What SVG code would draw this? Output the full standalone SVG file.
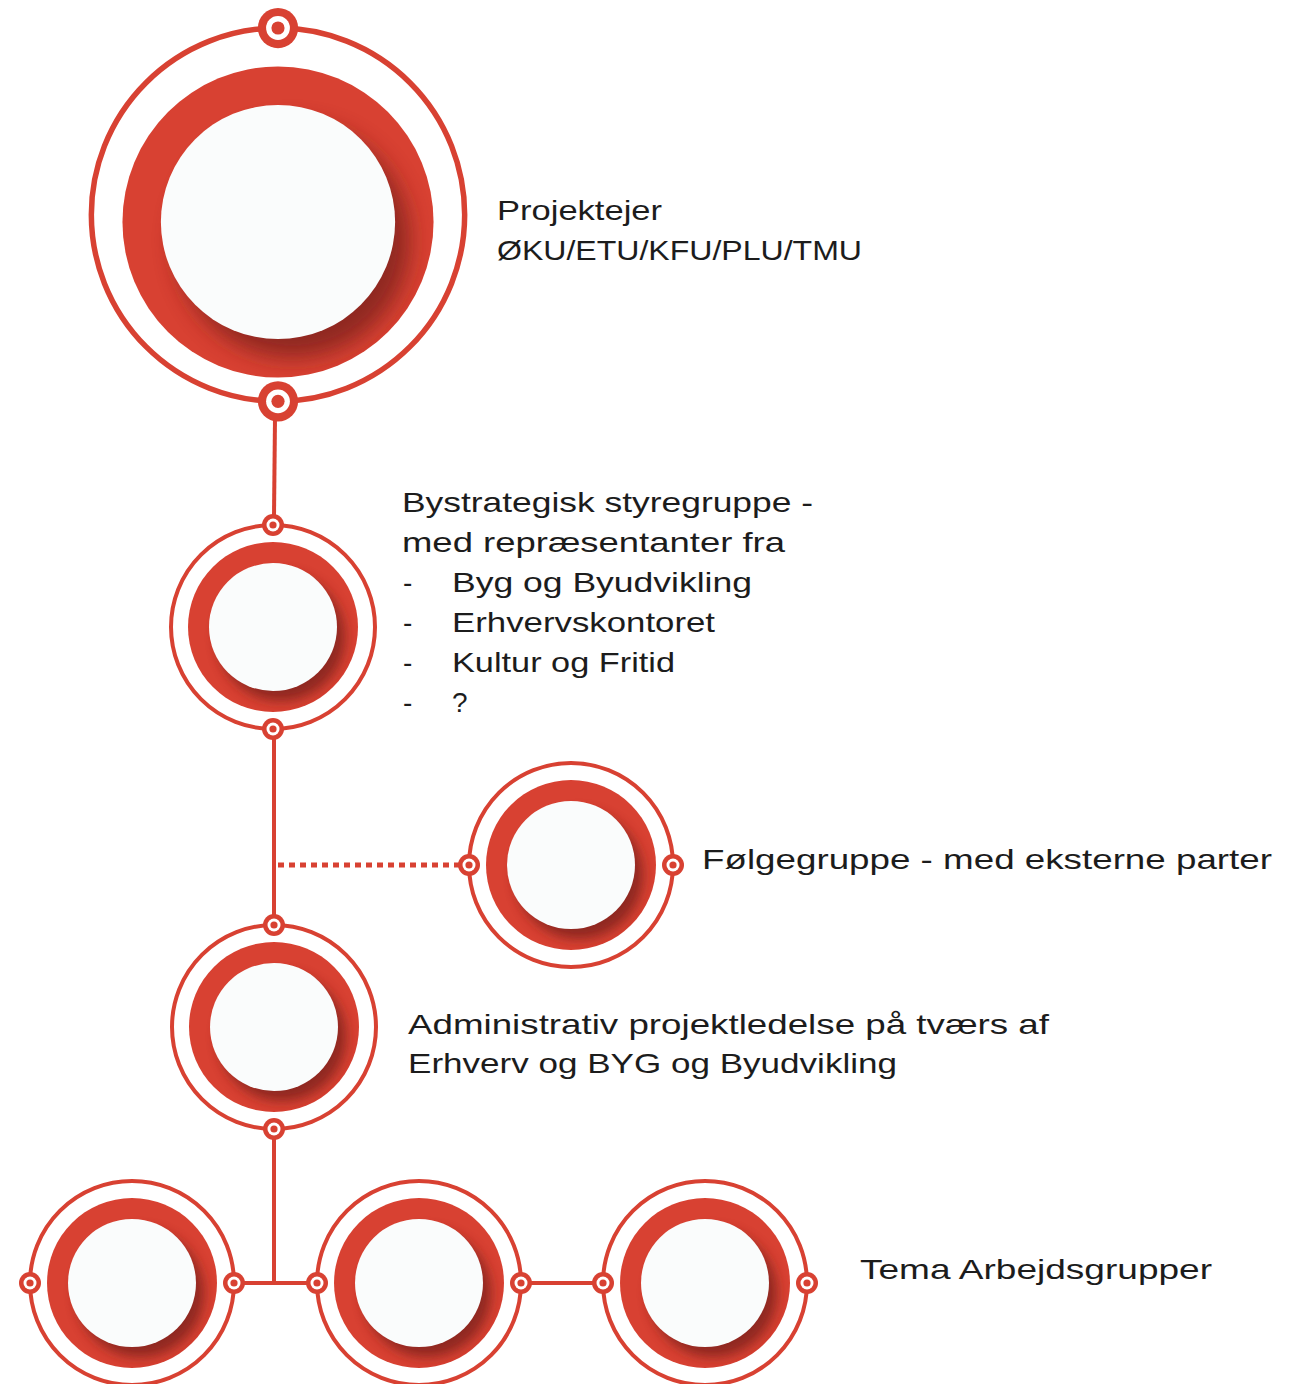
<svg xmlns="http://www.w3.org/2000/svg" xmlns:xlink="http://www.w3.org/1999/xlink" width="1296" height="1384" viewBox="0 0 1296 1384">
  <style>
    .ring { fill: none; stroke: #D84132; stroke-width: 4; }
    .band { fill: #D84132; }
    .shadow { fill: #7d211a; opacity: 0.8; }
    .disc { fill: #FAFCFC; }
    .red { fill: #D84132; }
    .hole { fill: #FFFFFF; }
    .conn { stroke: #D84132; stroke-width: 4; fill: none; }
    .dots { stroke: #D84132; stroke-width: 5; fill: none; stroke-dasharray: 6 5; }
    text { font-family: "Liberation Sans", Arial, sans-serif; font-size: 28px; fill: #1c1c1c; }
  </style>
  <defs>
    <clipPath id="bandClip"><circle cx="0" cy="0" r="85"/></clipPath>
    <filter id="blur" x="-50%" y="-50%" width="200%" height="200%"><feGaussianBlur stdDeviation="6"/></filter>
    <g id="core">
      <circle class="band" cx="0" cy="0" r="85"/>
      <g clip-path="url(#bandClip)"><circle class="shadow" cx="8" cy="10" r="64" filter="url(#blur)"/></g>
      <circle class="disc" cx="0" cy="0" r="64"/>
    </g>
    <g id="port">
      <circle class="red" cx="0" cy="0" r="11"/>
      <circle class="hole" cx="0" cy="0" r="6.5"/>
      <circle class="red" cx="0" cy="0" r="3.6"/>
    </g>
  </defs>

  <g id="connectors">
    <line class="conn" x1="275" y1="418" x2="274" y2="516"/>
    <line class="conn" x1="274" y1="737" x2="274" y2="916"/>
    <line class="dots" x1="278" y1="865" x2="460" y2="865"/>
    <line class="conn" x1="274" y1="1138" x2="274" y2="1283"/>
    <line class="conn" x1="243" y1="1283" x2="308" y2="1283"/>
    <line class="conn" x1="530" y1="1283" x2="594" y2="1283"/>
  </g>

  <g id="node-projektejer" transform="translate(278,222) scale(1.83)">
    <circle class="ring" cx="0" cy="-4" r="102" style="stroke-width:3"/>
    <use xlink:href="#core"/>
    <use xlink:href="#port" x="0" y="-106"/>
    <use xlink:href="#port" x="0" y="98"/>
  </g>

  <g id="node-styregruppe" transform="translate(273,627)">
    <circle class="ring" cx="0" cy="0" r="102"/>
    <use xlink:href="#core"/>
    <use xlink:href="#port" x="0" y="-102"/>
    <use xlink:href="#port" x="0" y="102"/>
  </g>

  <g id="node-foelgegruppe" transform="translate(571,865)">
    <circle class="ring" cx="0" cy="0" r="102"/>
    <use xlink:href="#core"/>
    <use xlink:href="#port" x="-102" y="0"/>
    <use xlink:href="#port" x="102" y="0"/>
  </g>

  <g id="node-administrativ" transform="translate(274,1027)">
    <circle class="ring" cx="0" cy="0" r="102"/>
    <use xlink:href="#core"/>
    <use xlink:href="#port" x="0" y="-102"/>
    <use xlink:href="#port" x="0" y="102"/>
  </g>

  <g id="node-tema1" transform="translate(132,1283)">
    <circle class="ring" cx="0" cy="0" r="102"/>
    <use xlink:href="#core"/>
    <use xlink:href="#port" x="-102" y="0"/>
    <use xlink:href="#port" x="102" y="0"/>
  </g>

  <g id="node-tema2" transform="translate(419,1283)">
    <circle class="ring" cx="0" cy="0" r="102"/>
    <use xlink:href="#core"/>
    <use xlink:href="#port" x="-102" y="0"/>
    <use xlink:href="#port" x="102" y="0"/>
  </g>

  <g id="node-tema3" transform="translate(705,1283)">
    <circle class="ring" cx="0" cy="0" r="102"/>
    <use xlink:href="#core"/>
    <use xlink:href="#port" x="-102" y="0"/>
    <use xlink:href="#port" x="102" y="0"/>
  </g>

  <g id="labels">
    <text x="497" y="220" textLength="165" lengthAdjust="spacingAndGlyphs">Projektejer</text>
    <text x="497" y="260" textLength="365" lengthAdjust="spacingAndGlyphs">ØKU/ETU/KFU/PLU/TMU</text>

    <text x="402" y="512" textLength="411" lengthAdjust="spacingAndGlyphs">Bystrategisk styregruppe -</text>
    <text x="402" y="552" textLength="383" lengthAdjust="spacingAndGlyphs">med repræsentanter fra</text>
    <text x="403" y="592">-</text>
    <text x="452" y="592" textLength="300" lengthAdjust="spacingAndGlyphs">Byg og Byudvikling</text>
    <text x="403" y="632">-</text>
    <text x="452" y="632" textLength="263" lengthAdjust="spacingAndGlyphs">Erhvervskontoret</text>
    <text x="403" y="672">-</text>
    <text x="452" y="672" textLength="223" lengthAdjust="spacingAndGlyphs">Kultur og Fritid</text>
    <text x="403" y="712">-</text>
    <text x="452" y="712">?</text>

    <text x="702" y="869" textLength="570" lengthAdjust="spacingAndGlyphs">Følgegruppe - med eksterne parter</text>

    <text x="408" y="1034" textLength="641" lengthAdjust="spacingAndGlyphs">Administrativ projektledelse på tværs af</text>
    <text x="408" y="1073" textLength="489" lengthAdjust="spacingAndGlyphs">Erhverv og BYG og Byudvikling</text>

    <text x="860" y="1279" textLength="352" lengthAdjust="spacingAndGlyphs">Tema Arbejdsgrupper</text>
  </g>
</svg>
